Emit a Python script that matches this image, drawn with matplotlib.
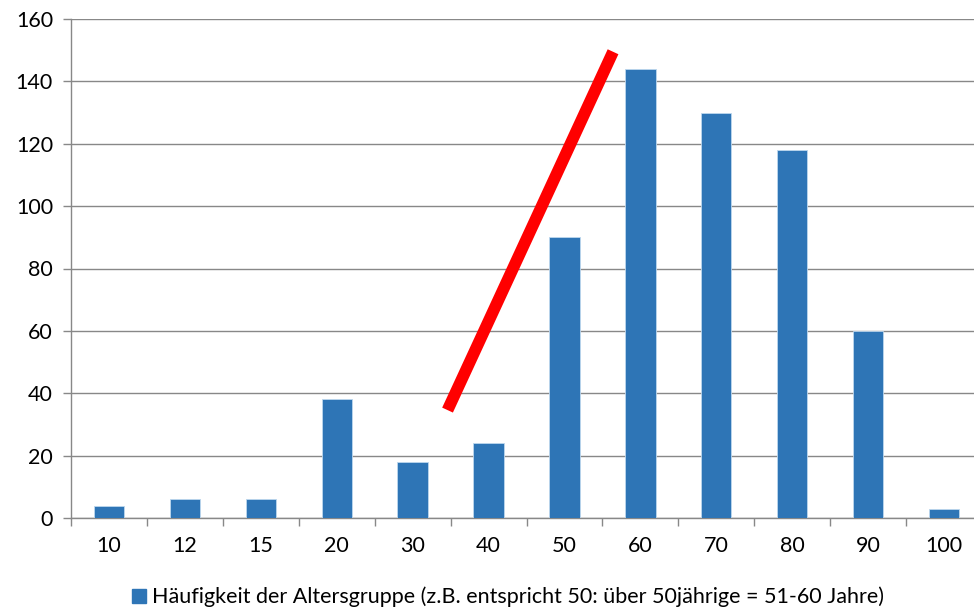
import matplotlib
matplotlib.use("Agg")
import matplotlib.pyplot as plt
from matplotlib.patches import Patch
import numpy as np

# data
age_groups = ["10", "12", "15", "20", "30", "40", "50", "60", "70", "80", "90", "100"]
counts = [4, 6, 6, 38, 18, 24, 90, 144, 130, 118, 60, 3]
legend_label = "Häufigkeit der Altersgruppe (z.B. entspricht 50: über 50jährige = 51-60 Jahre)"

# red marker stroke (category index, value)
stroke_x = [4.46, 6.64]
stroke_y = [34.6, 149.5]

plt.rcParams["font.family"] = ["Lato", "DejaVu Sans"]

bar_color = "#2E75B6"
grid_color = "#888888"
fsize = 15.5

fig = plt.figure(figsize=(9.74, 6.09), dpi=100)
ax = fig.add_axes([71 / 974, 1 - 518 / 609, 911 / 974, 499 / 609])

x = np.arange(len(age_groups))
ax.bar(x, counts, width=0.4, color=bar_color, edgecolor="#BDD7EE", linewidth=0.6, zorder=3)

ax.plot(stroke_x, stroke_y, color="#FF0000", linewidth=8.5, solid_capstyle="butt", zorder=4)

ax.set_xlim(-0.5, len(age_groups) - 0.5)
ax.set_ylim(0, 160)
ax.set_yticks(np.arange(0, 161, 20))
ax.yaxis.grid(True, color=grid_color, linewidth=1, zorder=0)
ax.set_axisbelow(True)

ax.set_xticks(x)
ax.set_xticklabels(age_groups)
ax.set_xticks(np.arange(-0.5, len(age_groups)), minor=True)
ax.tick_params(axis="x", which="major", length=0, pad=13, labelsize=fsize)
ax.tick_params(axis="x", which="minor", length=6, color=grid_color, width=1)
ax.tick_params(axis="y", length=6, color=grid_color, width=1, pad=7, labelsize=fsize)

for side in ["top", "right"]:
    ax.spines[side].set_visible(False)
for side in ["left", "bottom"]:
    ax.spines[side].set_color(grid_color)
    ax.spines[side].set_linewidth(1)

handle = Patch(facecolor=bar_color, edgecolor=bar_color)
fig.legend([handle], [legend_label], loc="center", bbox_to_anchor=(508 / 974, 1 - 597 / 609),
           frameon=False, fontsize=fsize, handlelength=0.65, handleheight=0.65, handletextpad=0.25)

fig.savefig("out.png", dpi=100)
